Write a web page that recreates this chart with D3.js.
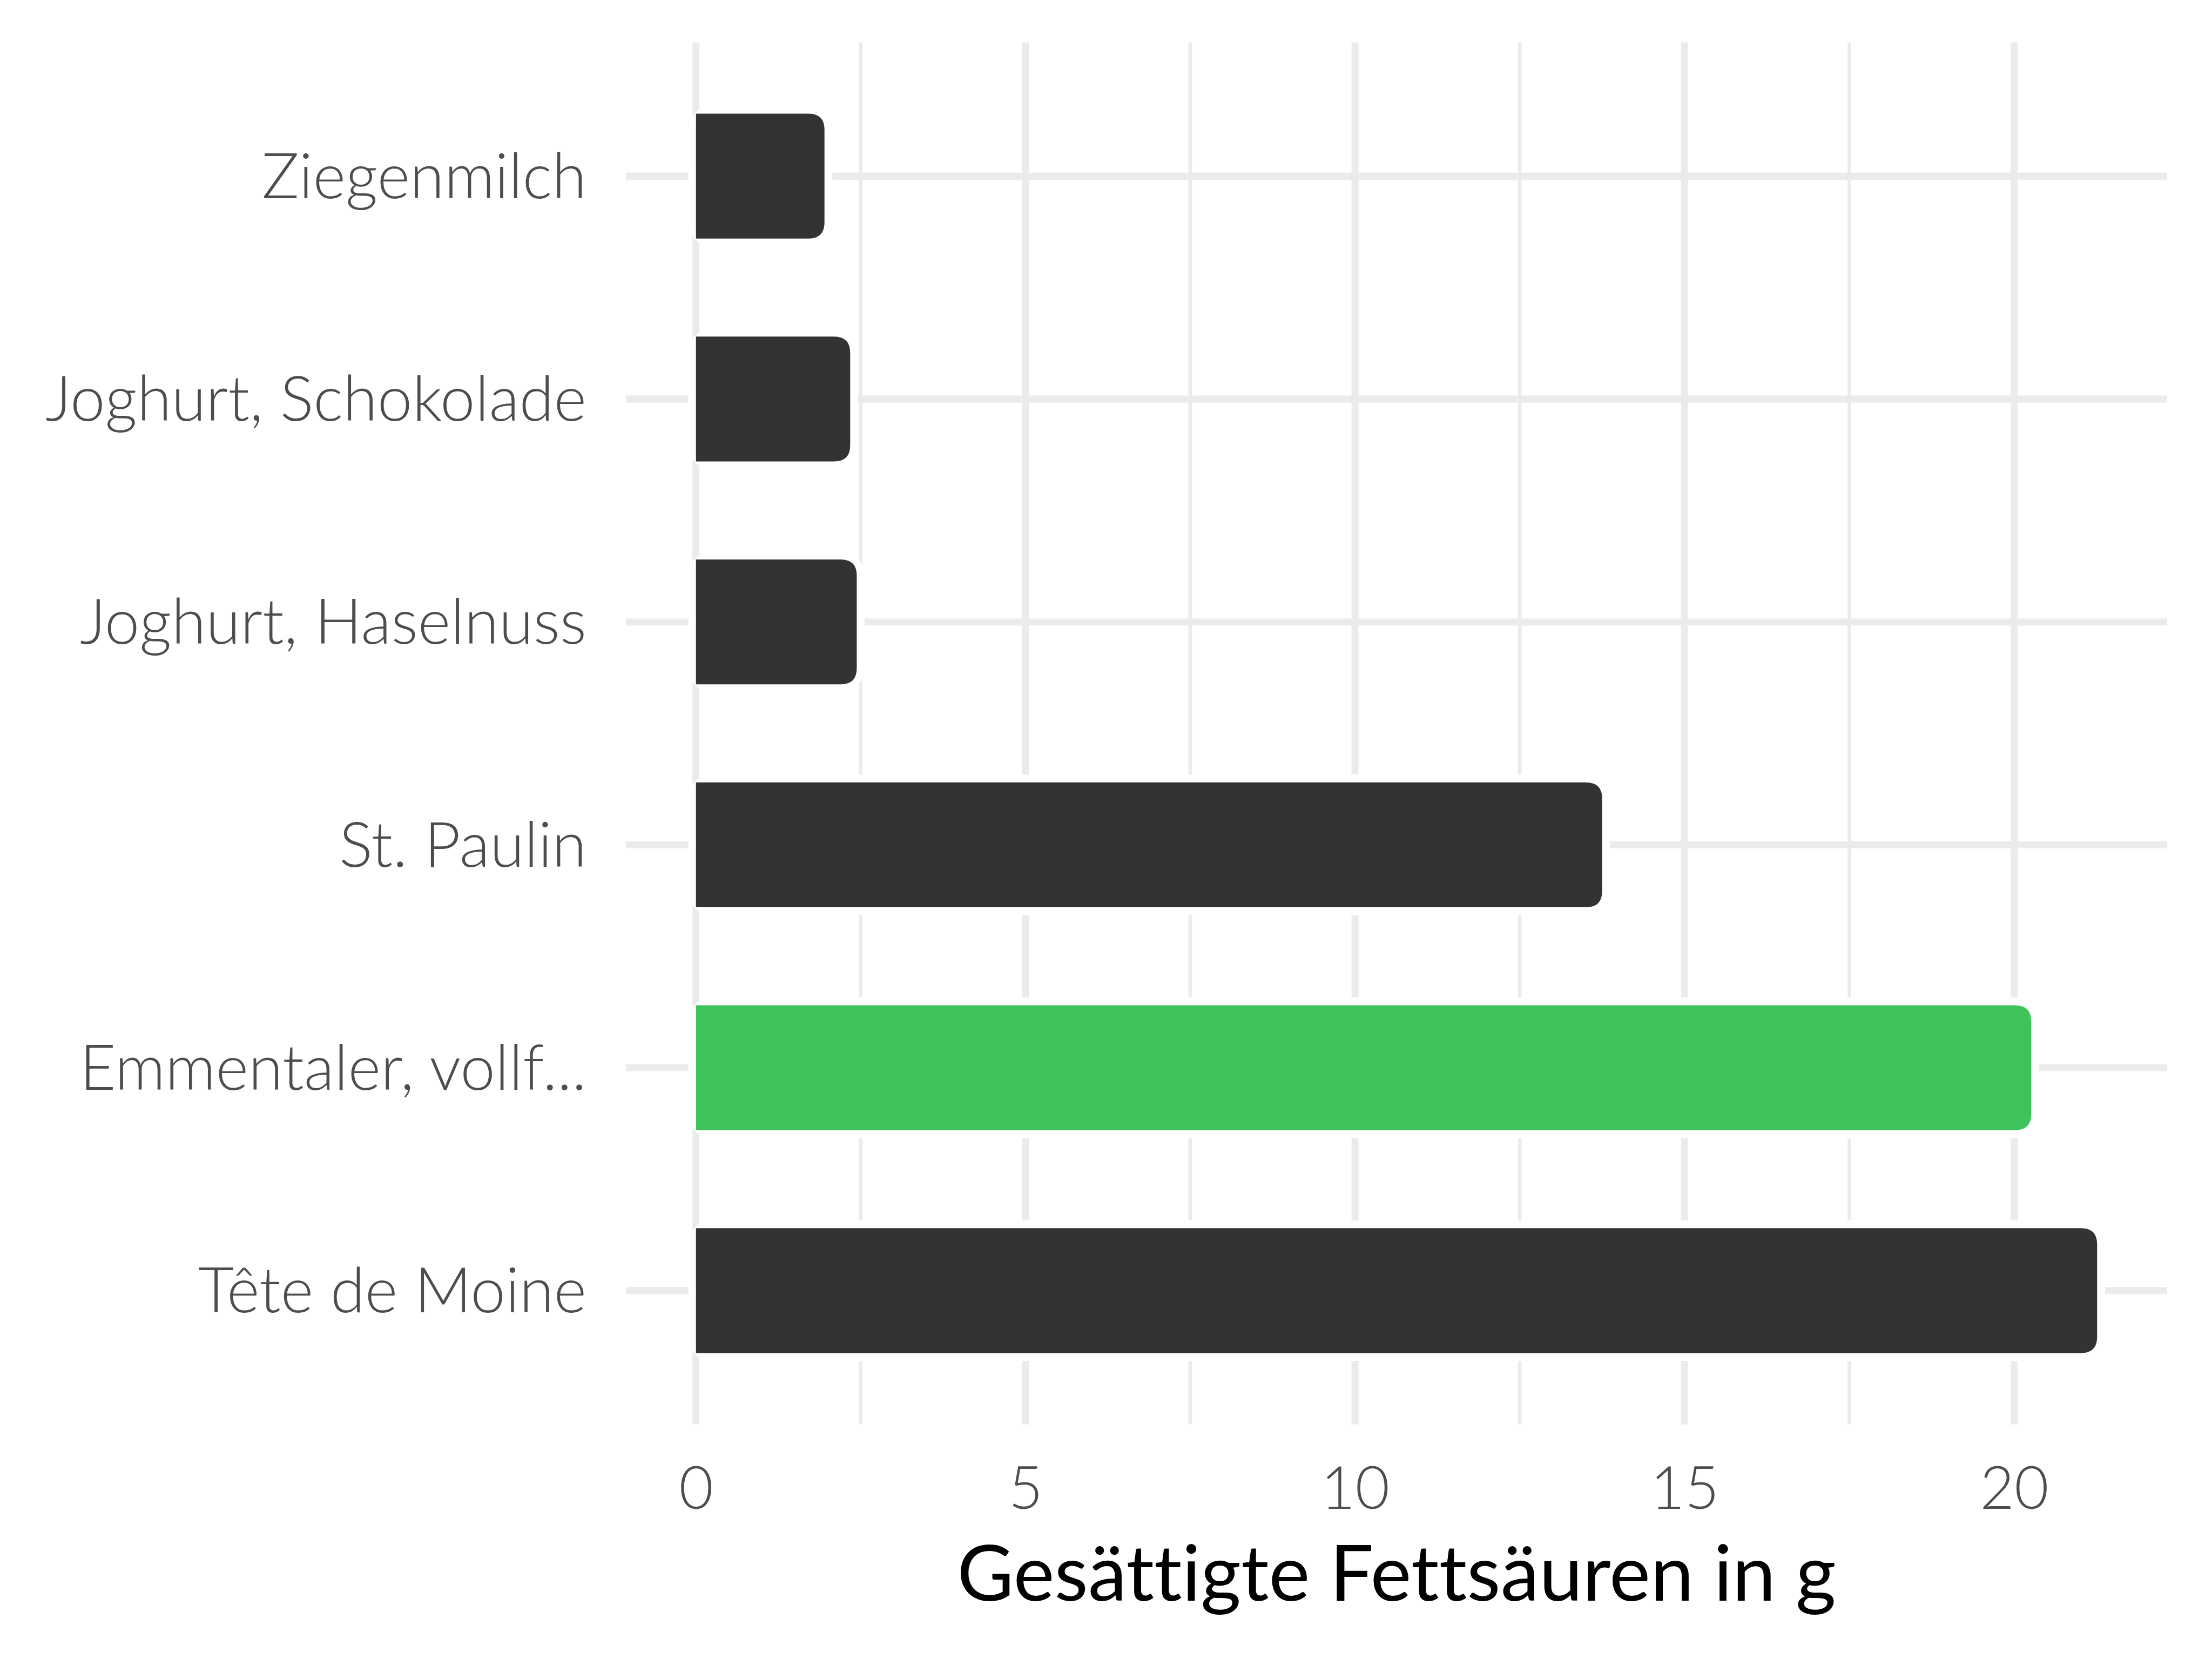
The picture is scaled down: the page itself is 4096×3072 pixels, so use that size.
<!DOCTYPE html>
<html><head><meta charset="utf-8">
<script src="https://cdn.jsdelivr.net/npm/d3@7"></script>
<style>
html,body{margin:0;padding:0;background:#fff;}
text{font-family:Lato,"Open Sans",sans-serif;font-variant-ligatures:none;font-feature-settings:"liga" 0,"clig" 0;}
</style></head>
<body><svg id="c" width="4096" height="3072"></svg>
<script>
const categories = ["Ziegenmilch","Joghurt, Schokolade","Joghurt, Haselnuss","St. Paulin","Emmentaler, vollf...","Tête de Moine"];
const values = [1.95, 2.34, 2.44, 13.75, 20.26, 21.26];
const highlighted = ["Emmentaler, vollf..."];
const majorTicks = [0, 5, 10, 15, 20];
const minorTicks = [2.5, 7.5, 12.5, 17.5];
const xTitle = "Gesättigte Fettsäuren in g";

const W = 4096, H = 3072;
const panel = {left: 1159, right: 4013, top: 78.5, bottom: 2637.5};
const svg = d3.select("#c");
svg.append("rect").attr("width", W).attr("height", H).attr("fill", "#fff");

const maxV = d3.max(values);
const x = d3.scaleLinear().domain([-0.05 * maxV, 1.05 * maxV]).range([panel.left, panel.right]);
const y = d3.scalePoint().domain(categories).range([panel.top, panel.bottom]).padding(0.6);
const barH = y.step() * 0.56;
const grid = "#EBEBEB";

svg.append("g").selectAll("line").data(minorTicks).join("line")
  .attr("x1", d => x(d)).attr("x2", d => x(d))
  .attr("y1", panel.top).attr("y2", panel.bottom)
  .attr("stroke", grid).attr("stroke-width", 6.5);
svg.append("g").selectAll("line").data(majorTicks).join("line")
  .attr("x1", d => x(d)).attr("x2", d => x(d))
  .attr("y1", panel.top).attr("y2", panel.bottom)
  .attr("stroke", grid).attr("stroke-width", 13);
svg.append("g").selectAll("line").data(categories).join("line")
  .attr("x1", panel.left).attr("x2", panel.right)
  .attr("y1", d => y(d)).attr("y2", d => y(d))
  .attr("stroke", grid).attr("stroke-width", 13);

const data = categories.map((c, i) => ({c, v: values[i]}));
const r = 30, pad = 14.5;

function rightRounded(x0, x1, y0, h, rr) {
  rr = Math.min(rr, (x1 - x0), h / 2);
  return `M${x0},${y0}H${x1 - rr}Q${x1},${y0} ${x1},${y0 + rr}V${y0 + h - rr}Q${x1},${y0 + h} ${x1 - rr},${y0 + h}H${x0}Z`;
}

svg.append("g").selectAll("rect").data(data).join("rect")
  .attr("x", x(0) - pad).attr("y", d => y(d.c) - barH / 2 - pad)
  .attr("width", d => x(d.v) - x(0) + 2 * pad).attr("height", barH + 2 * pad)
  .attr("rx", r + pad).attr("fill", "#fff");
svg.append("g").selectAll("path").data(data).join("path")
  .attr("d", d => rightRounded(x(0), x(d.v), y(d.c) - barH / 2, barH, r))
  .attr("fill", d => highlighted.includes(d.c) ? "#3EC35A" : "#333333");

const yAxis = d3.axisLeft(y).tickSize(0).tickPadding(0);
const gy = svg.append("g").attr("transform", `translate(1086,0)`).call(yAxis);
gy.select(".domain").remove();
gy.selectAll("text").attr("font-size", 116).attr("font-weight", 300).attr("fill", "#4D4D4D")
  .attr("font-family", "Lato, sans-serif").attr("dy", null).attr("y", 40);

const xAxis = d3.axisBottom(x).tickValues(majorTicks).tickSize(0).tickPadding(0).tickFormat(d3.format("d"));
const gx = svg.append("g").attr("transform", `translate(0,2793.6)`).call(xAxis);
gx.select(".domain").remove();
gx.selectAll("text").attr("font-size", 110).attr("font-weight", 300).attr("fill", "#4D4D4D")
  .attr("font-family", "Lato, sans-serif").attr("dy", null).attr("y", 0);

svg.append("text").attr("x", (panel.left + panel.right) / 2).attr("y", 2964)
  .attr("text-anchor", "middle").attr("font-size", 144).attr("font-weight", 400).attr("fill", "#000")
  .text(xTitle);
</script></body></html>
